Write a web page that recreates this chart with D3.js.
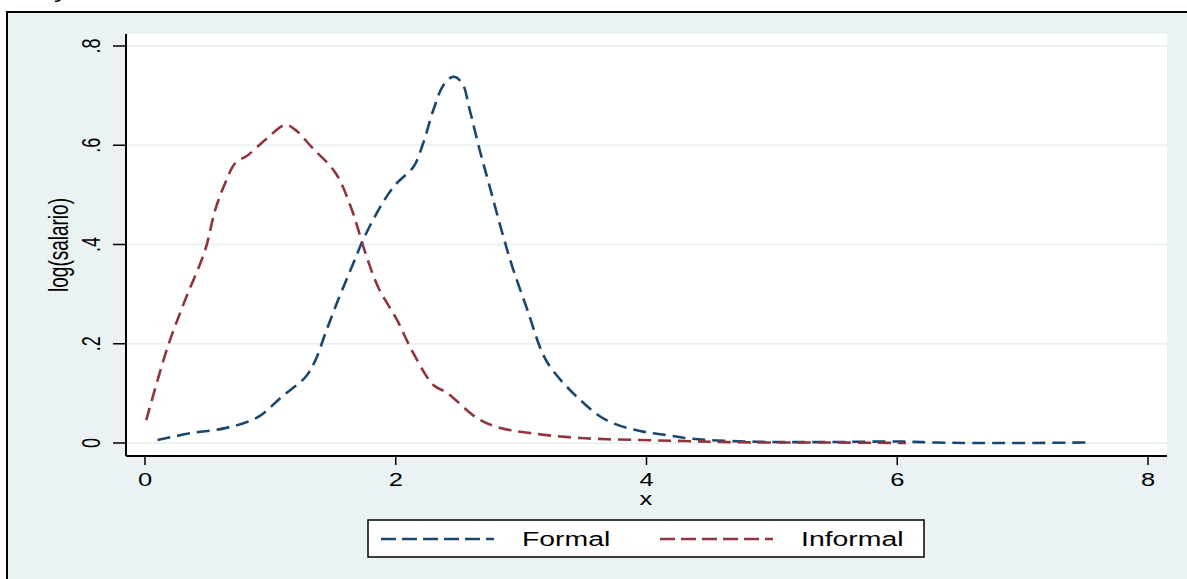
<!DOCTYPE html>
<html>
<head>
<meta charset="utf-8">
<script src="https://cdn.jsdelivr.net/npm/d3@7"></script>
<style>
  body { margin: 0; background: #fff; }
  svg { display: block; }
  text { font-family: "Liberation Sans", Arial, sans-serif; fill: #000; }
</style>
</head>
<body>
<svg width="1187" height="579"></svg>
<script>
// kernel density estimates
const formalX = [0.10, 0.37, 0.64, 0.90, 1.09, 1.28, 1.36, 1.44, 1.54, 1.65, 1.75, 1.91, 2.01, 2.14, 2.22, 2.30, 2.38, 2.46, 2.53, 2.59, 2.67, 2.75, 2.85, 2.93, 3.05, 3.17, 3.25, 3.47, 3.68, 3.95, 4.16, 4.35, 4.56, 4.80, 5.00, 5.50, 6.00, 6.30, 6.60, 7.00, 7.52];
const formalY = [0.006, 0.020, 0.030, 0.052, 0.093, 0.133, 0.167, 0.222, 0.288, 0.355, 0.415, 0.490, 0.524, 0.556, 0.605, 0.671, 0.721, 0.738, 0.725, 0.671, 0.590, 0.516, 0.423, 0.355, 0.268, 0.181, 0.147, 0.087, 0.046, 0.024, 0.016, 0.009, 0.005, 0.003, 0.002, 0.002, 0.003, 0.001, 0.000, 0.000, 0.001];
const informalX = [0.01, 0.18, 0.32, 0.48, 0.56, 0.64, 0.72, 0.82, 0.96, 1.12, 1.20, 1.33, 1.52, 1.65, 1.75, 1.86, 2.01, 2.14, 2.30, 2.41, 2.65, 2.81, 3.07, 3.47, 3.95, 4.30, 4.60, 5.00, 5.50, 6.07];
const informalY = [0.046, 0.193, 0.288, 0.389, 0.470, 0.524, 0.564, 0.580, 0.611, 0.641, 0.631, 0.596, 0.544, 0.470, 0.389, 0.314, 0.248, 0.181, 0.117, 0.101, 0.050, 0.032, 0.020, 0.010, 0.006, 0.004, 0.002, 0.001, 0.001, 0.000];

const xTicks = [0, 2, 4, 6, 8];
const yTicks = [0, 0.2, 0.4, 0.6, 0.8];
const yTickLabels = ["0", ".2", ".4", ".6", ".8"];
const seriesNames = ["Formal", "Informal"];
const colors = ["#1a476f", "#90353b"];

const svg = d3.select("svg");
const bg = "#eaf2f3";
const stretch = 1.42; // the picture is widened horizontally

svg.append("rect").attr("width", 1187).attr("height", 579).attr("fill", "#fff");
svg.append("rect").attr("x", 7).attr("y", 12).attr("width", 1200).attr("height", 600)
   .attr("fill", bg).attr("stroke", "#000").attr("stroke-width", 2);

// cut-off title glyph at the top
svg.append("text").attr("transform", `translate(54,-2) scale(${stretch},1)`)
   .attr("font-size", 20).text("y");

const plot = { left: 126, right: 1167, top: 34, bottom: 456 };
svg.append("rect").attr("x", plot.left).attr("y", plot.top)
   .attr("width", plot.right - plot.left).attr("height", plot.bottom - plot.top)
   .attr("fill", "#fff");

const x = d3.scaleLinear().domain([0, 8]).range([145, 1148]);
const y = d3.scaleLinear().domain([0, 0.8]).range([443, 46]);

// grid
svg.append("g").selectAll("line").data(yTicks).enter().append("line")
   .attr("x1", plot.left).attr("x2", plot.right)
   .attr("y1", d => y(d)).attr("y2", d => y(d))
   .attr("stroke", bg).attr("stroke-width", 2);

// axis lines
svg.append("line").attr("x1", plot.left).attr("x2", plot.left)
   .attr("y1", plot.top).attr("y2", plot.bottom).attr("stroke", "#000").attr("stroke-width", 2);
svg.append("line").attr("x1", plot.left).attr("x2", plot.right)
   .attr("y1", plot.bottom).attr("y2", plot.bottom).attr("stroke", "#000").attr("stroke-width", 2);

// x ticks
const xg = svg.append("g");
xg.selectAll("line").data(xTicks).enter().append("line")
  .attr("x1", d => x(d)).attr("x2", d => x(d))
  .attr("y1", plot.bottom).attr("y2", plot.bottom + 9)
  .attr("stroke", "#000").attr("stroke-width", 1.5);
xg.selectAll("text").data(xTicks).enter().append("text")
  .attr("transform", d => `translate(${x(d)},486) scale(${stretch},1)`)
  .attr("text-anchor", "middle").attr("font-size", 18).text(d => d);

// y ticks
const yg = svg.append("g");
yg.selectAll("line").data(yTicks).enter().append("line")
  .attr("x1", plot.left - 13).attr("x2", plot.left)
  .attr("y1", d => y(d)).attr("y2", d => y(d))
  .attr("stroke", "#000").attr("stroke-width", 1.5);
yg.selectAll("text").data(yTicks).enter().append("text")
  .attr("transform", d => `translate(100,${y(d)}) scale(${stretch},1) rotate(-90)`)
  .attr("text-anchor", "middle").attr("font-size", 18).text((d, i) => yTickLabels[i]);

// axis titles
svg.append("text").attr("transform", `translate(646,505) scale(${stretch},1)`)
   .attr("text-anchor", "middle").attr("font-size", 18).text("x");
svg.append("text").attr("transform", `translate(68,245) scale(${stretch},1) rotate(-90)`)
   .attr("text-anchor", "middle").attr("font-size", 19).text("log(salario)");

// density lines
const line = d3.line().x(d => x(d[0])).y(d => y(d[1])).curve(d3.curveCatmullRom);
const series = [d3.zip(formalX, formalY), d3.zip(informalX, informalY)];
svg.append("g").selectAll("path").data(series).enter().append("path")
   .attr("d", line).attr("fill", "none")
   .attr("stroke", (d, i) => colors[i]).attr("stroke-width", 2.6)
   .attr("stroke-dasharray", "13,7");

// legend
const legend = svg.append("g");
legend.append("rect").attr("x", 368).attr("y", 520).attr("width", 556).attr("height", 37)
   .attr("fill", "#fff").attr("stroke", "#000").attr("stroke-width", 1.5);
const lx = [381, 660];
seriesNames.forEach((name, i) => {
  legend.append("line").attr("x1", lx[i]).attr("x2", lx[i] + 113)
    .attr("y1", 539).attr("y2", 539)
    .attr("stroke", colors[i]).attr("stroke-width", 2.4).attr("stroke-dasharray", "15,6");
  legend.append("text").attr("transform", `translate(${lx[i] + 141},546) scale(${stretch},1)`)
    .attr("font-size", 20).text(name);
});
</script>
</body>
</html>
